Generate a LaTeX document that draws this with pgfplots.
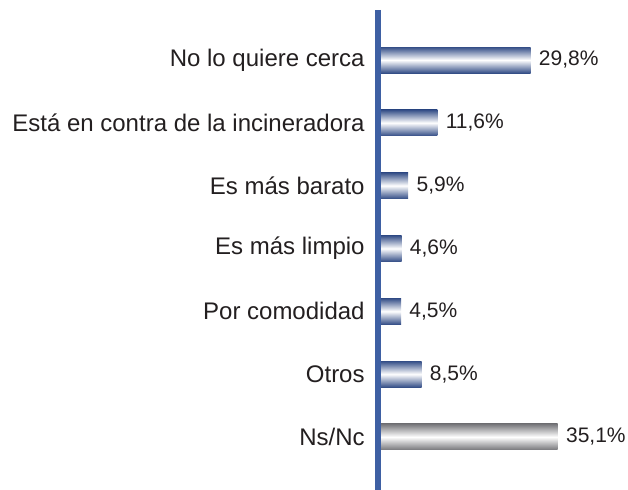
\documentclass[border=0pt]{standalone}
\usepackage{pgfplots}
\pgfplotsset{compat=1.18}
\usepackage{fontspec}
\setmainfont{Liberation Sans}
\definecolor{bluedark}{RGB}{52,78,135}
\definecolor{axisblue}{RGB}{62,96,163}
\definecolor{graydark}{RGB}{118,118,122}
\definecolor{txt}{RGB}{35,31,32}
\pgfplotsset{bluebar/.style={draw=none, top color=bluedark, bottom color=bluedark, middle color=white},
 graybar/.style={draw=none, top color=graydark, bottom color=graydark, middle color=white}}
\begin{document}
\begin{tikzpicture}
\begin{axis}[
 scale only axis, width=122.88pt, height=240pt,
 xmin=0, xmax=48, ymin=-0.796, ymax=6.844, y dir=reverse,
 xbar, bar width=13pt, bar shift=0pt,
 axis line style={draw=none}, xtick=\empty, ytick={0,...,6},
 yticklabels={No lo quiere cerca, Está en contra de la incineradora, Es más barato, Es más limpio, Por comodidad, Otros, Ns/Nc},
 major tick length=0pt,
 yticklabel style={font=\fontsize{12}{14}\selectfont, text=txt, inner sep=0pt, xshift=-6.5pt},
 /pgf/number format/assume math mode=true,
 nodes near coords={\pgfmathprintnumber[fixed,fixed zerofill,precision=1,use comma,assume math mode=true]{\pgfplotspointmeta}\%},
 nodes near coords style={font=\fontsize{10.5}{12}\selectfont, text=txt, anchor=west, inner sep=0pt, xshift=4pt},
 point meta=x, clip=false,
]
\addplot[bluebar] coordinates {(29.8,0)};
\addplot[bluebar] coordinates {(11.6,1)};
\addplot[bluebar] coordinates {(5.9,2)};
\addplot[bluebar] coordinates {(4.6,3)};
\addplot[bluebar] coordinates {(4.5,4)};
\addplot[bluebar] coordinates {(8.5,5)};
\addplot[graybar] coordinates {(35.1,6)};
\draw[axisblue, line width=3pt] (axis cs:0,-0.796) -- (axis cs:0,6.844);
\end{axis}
\pgfresetboundingbox
\useasboundingbox (-189pt,0pt) rectangle (125pt,245pt);
\end{tikzpicture}
\end{document}
